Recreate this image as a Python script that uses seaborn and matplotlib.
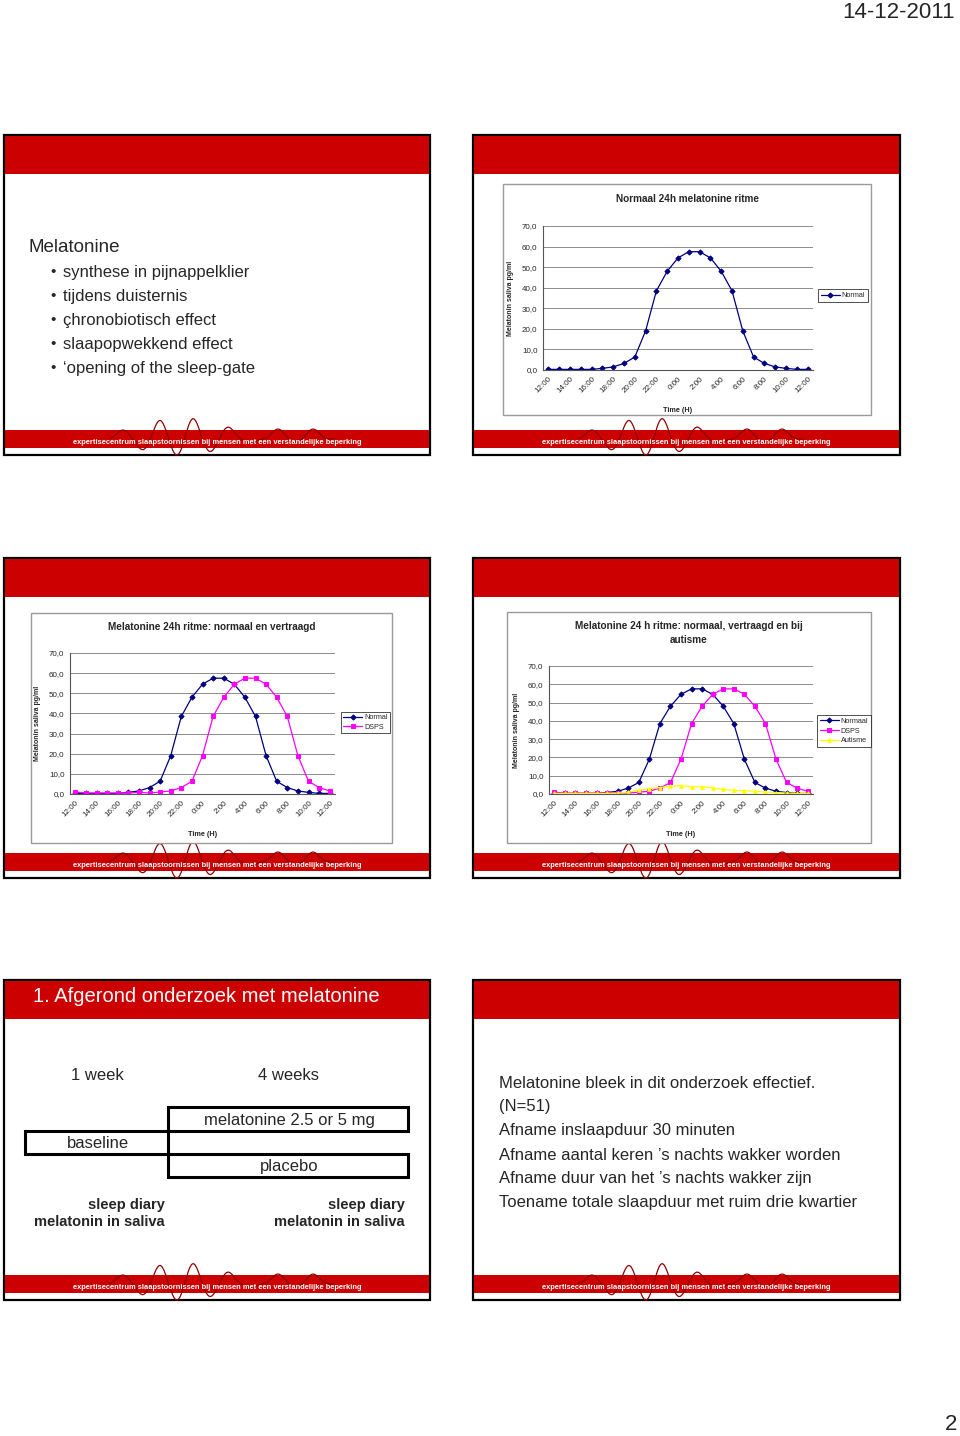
import numpy as np
import pandas as pd
import matplotlib
matplotlib.use("Agg")
import matplotlib.pyplot as plt
from matplotlib.patches import Rectangle
import seaborn as sns

# ---------------- data ----------------
hours = ["12:00", "13:00", "14:00", "15:00", "16:00", "17:00", "18:00", "19:00",
         "20:00", "21:00", "22:00", "23:00", "0:00", "1:00", "2:00", "3:00",
         "4:00", "5:00", "6:00", "7:00", "8:00", "9:00", "10:00", "11:00", "12:00"]
x_tick_labels = ["12:00", "14:00", "16:00", "18:00", "20:00", "22:00", "0:00",
                 "2:00", "4:00", "6:00", "8:00", "10:00", "12:00"]
y_tick_values = [0, 10, 20, 30, 40, 50, 60, 70]
y_tick_labels = ["0,0", "10,0", "20,0", "30,0", "40,0", "50,0", "60,0", "70,0"]

normal = [0.3, 0.3, 0.3, 0.3, 0.3, 0.8, 1.5, 3.2, 6.3, 19.0, 38.5, 48.0, 54.5,
          57.5, 57.5, 54.5, 48.0, 38.5, 19.0, 6.3, 3.2, 1.5, 0.8, 0.3, 0.3]
dsps = [1.0, 0.5, 0.5, 0.5, 0.5, 0.5, 0.8, 0.5, 1.0, 1.5, 3.2, 6.3, 19.0,
        38.5, 48.0, 54.5, 57.5, 57.5, 54.5, 48.0, 38.5, 19.0, 6.3, 3.2, 1.5]
autisme = [0.3, 0.3, 0.3, 0.3, 0.3, 0.3, 0.5, 1.0, 2.0, 3.0, 3.5, 4.2, 4.6,
           4.0, 4.0, 3.3, 2.5, 2.0, 1.8, 1.5, 1.0, 0.8, 0.5, 0.3, 0.3]

bullets = ["synthese in pijnappelklier", "tijdens duisternis", "çhronobiotisch effect",
           "slaapopwekkend effect", "‘opening of the sleep-gate"]
results = ["Melatonine bleek in dit onderzoek effectief.", "(N=51)",
           "Afname inslaapduur 30 minuten",
           "Afname aantal keren ’s nachts wakker worden",
           "Afname duur van het ’s nachts wakker zijn",
           "Toename totale slaapduur met ruim drie kwartier"]
footer_text = "expertisecentrum slaapstoornissen bij mensen met een verstandelijke beperking"

# ---------------- style ----------------
sns.set_style("white")
plt.rcParams["font.family"] = ["Liberation Sans", "DejaVu Sans"]

W, H = 960, 1436
RED = "#cc0000"
NAVY = "#000080"
MAGENTA = "#ff00ff"
YELLOW = "#ffff00"

fig = plt.figure(figsize=(W / 100, H / 100), dpi=100)
bg = fig.add_axes([0, 0, 1, 1])
bg.set_xlim(0, W)
bg.set_ylim(H, 0)
bg.axis("off")


def px_axes(x0, y0, x1, y1):
    return fig.add_axes([x0 / W, 1 - y1 / H, (x1 - x0) / W, (y1 - y0) / H])


def slide(left, top, right, bottom, title=None):
    bg.add_patch(Rectangle((left, top), right - left, bottom - top,
                           facecolor="white", edgecolor="black", lw=1.6, zorder=1))
    bg.add_patch(Rectangle((left + 1, top + 1), right - left - 2, 38,
                           facecolor=RED, edgecolor="none", zorder=2))
    if title:
        bg.text(left + 29, top + 17, title, color="white", fontsize=14.5,
                va="center", ha="left", zorder=3)
    # footer band
    bg.add_patch(Rectangle((left + 1, bottom - 25), right - left - 2, 18,
                           facecolor=RED, edgecolor="none", zorder=2))
    # decorative wave
    xs = np.linspace(left + 105, left + 330, 400)
    peaks = [(119, 9), (156, 19), (189, 21), (224, 12), (274, 10), (309, 10),
             (139, -11), (173, -17), (206, -13), (246, -3), (292, -3)]
    ys = np.zeros_like(xs)
    for p, a in peaks:
        ys += a * np.exp(-((xs - left - p) / 8.5) ** 2)
    bg.plot(xs, bottom - 16 - ys, color="#8e0000", lw=0.9, zorder=3)
    bg.text((left + right) / 2, bottom - 12.5, footer_text, color="white",
            fontsize=5.4, fontweight="bold", ha="center", va="center", zorder=4)


def chart(frame, plot_box, series, legend_center, title_lines, title_y):
    fx0, fy0, fx1, fy1 = frame
    bg.add_patch(Rectangle((fx0, fy0), fx1 - fx0, fy1 - fy0, facecolor="white",
                           edgecolor="#9a9a9a", lw=1.0, zorder=3))
    for i, line in enumerate(title_lines):
        bg.text((fx0 + fx1) / 2, title_y + i * 14, line, fontsize=7.2, fontweight="bold",
                ha="center", va="center", zorder=4)
    ax = px_axes(*plot_box)
    ax.set_facecolor("white")
    for name, vals, color, marker, ms in series:
        df = pd.DataFrame({"pos": np.arange(len(vals)), "val": vals})
        sns.lineplot(data=df, x="pos", y="val", ax=ax, color=color, marker=marker,
                     markersize=ms, markeredgecolor=color, linewidth=0.9, label=name)
    ax.set_xlim(-0.5, len(hours) - 0.5)
    ax.set_ylim(0, 70)
    ax.set_yticks(y_tick_values)
    ax.set_yticklabels(y_tick_labels, fontsize=5.8)
    ax.set_xticks(np.arange(0, len(hours), 2))
    ax.set_xticklabels(x_tick_labels, rotation=45, ha="right",
                       rotation_mode="anchor", fontsize=5.8)
    ax.grid(axis="y", color="#8c8c8c", lw=0.7)
    ax.grid(axis="x", visible=False)
    for s in ["top", "right"]:
        ax.spines[s].set_visible(False)
    for s in ["left", "bottom"]:
        ax.spines[s].set_color("#555555")
        ax.spines[s].set_linewidth(0.8)
    ax.tick_params(axis="both", length=2, width=0.6, color="#555555", pad=2)
    wpx = plot_box[2] - plot_box[0]
    hpx = plot_box[3] - plot_box[1]
    ax.set_ylabel("Melatonin saliva pg/ml", fontsize=5.0, fontweight="bold")
    ax.yaxis.set_label_coords(-29 / wpx, 0.5)
    ax.set_xlabel("Time (H)", fontsize=5.2, fontweight="bold")
    ax.xaxis.set_label_coords(0.5, -37 / hpx)
    leg = ax.legend(loc="center", bbox_to_anchor=(legend_center[0] / W, 1 - legend_center[1] / H),
                    bbox_transform=fig.transFigure, fontsize=5.2, frameon=True,
                    fancybox=False, edgecolor="black", handlelength=2.6,
                    borderpad=0.35, labelspacing=0.35, handletextpad=0.3,
                    borderaxespad=0)
    leg.get_frame().set_linewidth(0.6)
    return ax


# ---------------- page header / number ----------------
bg.text(955, 12, "14-12-2011", fontsize=16, ha="right", va="center")
bg.text(957, 1425, "2", fontsize=16, ha="right", va="center")

# ---------------- slide 1 ----------------
slide(4, 135, 430, 455)
bg.text(29, 247, "Melatonine", fontsize=13.5, ha="left", va="center", zorder=4)
for i, b in enumerate(bullets):
    y = 272 + 24 * i
    bg.text(50, y, "•", fontsize=11, ha="left", va="center", zorder=4)
    bg.text(63, y, b, fontsize=12, ha="left", va="center", zorder=4)

# ---------------- slide 2 ----------------
slide(473, 135, 900, 455)
chart((503, 184, 871, 415), (543, 226, 813, 370),
      [("Normal", normal, NAVY, "D", 2.6)],
      (843, 295.5), ["Normaal 24h melatonine ritme"], 199)

# ---------------- slide 3 ----------------
slide(4, 558, 430, 878)
chart((31, 613, 392, 843), (70, 653, 335, 794),
      [("Normal", normal, NAVY, "D", 2.6), ("DSPS", dsps, MAGENTA, "s", 2.4)],
      (365.5, 722.5), ["Melatonine 24h ritme: normaal en vertraagd"], 627)

# ---------------- slide 4 ----------------
slide(473, 558, 900, 878)
chart((507, 612, 871, 843), (549, 666, 813, 794),
      [("Normaal", normal, NAVY, "D", 2.6), ("DSPS", dsps, MAGENTA, "s", 2.4),
       ("Autisme", autisme, YELLOW, "^", 2.6)],
      (844, 731), ["Melatonine 24 h ritme: normaal, vertraagd en bij", "autisme"], 626)

# ---------------- slide 5 ----------------
slide(4, 980, 430, 1300, title="1. Afgerond onderzoek met melatonine")
bg.text(97, 1076, "1 week", fontsize=12, ha="center", va="center", zorder=4)
bg.text(289, 1076, "4 weeks", fontsize=12, ha="center", va="center", zorder=4)
for (x0, y0, x1, y1, txt) in [(168, 1107, 408, 1131, "melatonine 2.5 or 5 mg"),
                              (25, 1131, 168, 1154, "baseline"),
                              (168, 1154, 408, 1177, "placebo")]:
    bg.add_patch(Rectangle((x0, y0), x1 - x0, y1 - y0, facecolor="none",
                           edgecolor="black", lw=2.2, zorder=4))
    bg.text((x0 + x1) / 2 + 1, (y0 + y1) / 2 + 1, txt, fontsize=12,
            ha="center", va="center", zorder=5)
for xr in [165, 405]:
    bg.text(xr, 1205, "sleep diary", fontsize=10.5, fontweight="bold",
            ha="right", va="center", zorder=4)
    bg.text(xr, 1222, "melatonin in saliva", fontsize=10.5, fontweight="bold",
            ha="right", va="center", zorder=4)

# ---------------- slide 6 ----------------
slide(473, 980, 900, 1300)
for i, line in enumerate(results):
    bg.text(499, 1083 + 24 * i, line, fontsize=12, ha="left", va="center", zorder=4)

fig.savefig("out.png", dpi=100, facecolor="white")
